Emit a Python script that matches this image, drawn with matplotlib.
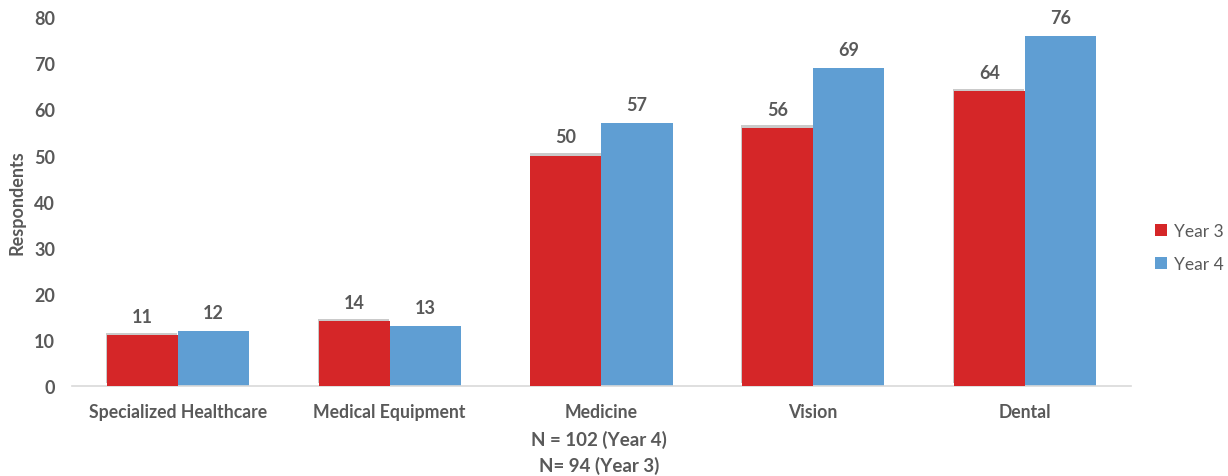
import matplotlib
matplotlib.use("Agg")
import matplotlib.pyplot as plt
import matplotlib.patheffects as pe
from matplotlib.patches import Patch
import numpy as np

categories = ["Specialized Healthcare", "Medical Equipment", "Medicine", "Vision", "Dental"]
year3 = [11, 14, 50, 56, 64]
year4 = [12, 13, 57, 69, 76]
series_names = ["Year 3", "Year 4"]
y_ticks = [0, 10, 20, 30, 40, 50, 60, 70, 80]
n_lines = ["N = 102 (Year 4)", "N= 94 (Year 3)"]

RED = "#D52628"
BLUE = "#5F9ED3"
TXT = "#595959"

plt.rcParams["font.family"] = ["Lato", "DejaVu Sans"]

fig = plt.figure(figsize=(12.28, 4.77), dpi=100)
ax = fig.add_axes([0.0586, 0.1887, 0.8624, 0.773])

x = np.arange(len(categories))
w = 0.336
shadow = [pe.SimplePatchShadow(offset=(-0.5, 1.8), shadow_rgbFace="#444444", alpha=0.28), pe.Normal()]
b3 = ax.bar(x - w / 2, year3, w, color=RED, zorder=3, path_effects=shadow)
b4 = ax.bar(x + w / 2, year4, w, color=BLUE, zorder=2)

for bars, vals in ((b3, year3), (b4, year4)):
    for r, v in zip(bars, vals):
        ax.text(r.get_x() + r.get_width() / 2, v + 2.2, str(v), ha="center", va="bottom",
                fontsize=13, fontweight="bold", color=TXT)

ax.set_xlim(-0.5, len(categories) - 0.5)
ax.set_ylim(0, 80)
ax.set_yticks(y_ticks)
ax.set_xticks(x)
ax.set_xticklabels(categories)
ax.tick_params(axis="both", length=0, labelsize=13, labelcolor=TXT)
ax.tick_params(axis="x", labelsize=12.7, pad=12)
ax.tick_params(axis="y", pad=12)
for lbl in ax.get_xticklabels() + ax.get_yticklabels():
    lbl.set_fontweight("bold")

for s in ("top", "right", "left"):
    ax.spines[s].set_visible(False)
ax.spines["bottom"].set_color("#D9D9D9")
ax.spines["bottom"].set_linewidth(1.2)

ax.set_ylabel("Respondents", fontsize=13, fontweight="bold", color=TXT, labelpad=6)

fig.text(0.488, 0.077, n_lines[0], ha="center", va="center", fontsize=13.5, fontweight="bold", color=TXT)
fig.text(0.488, 0.023, n_lines[1], ha="center", va="center", fontsize=13.5, fontweight="bold", color=TXT)

handles = [Patch(facecolor=RED, label=series_names[0]), Patch(facecolor=BLUE, label=series_names[1])]
leg = ax.legend(handles=handles, loc="center left", bbox_to_anchor=(1.0, 0.375), borderaxespad=1.0,
                frameon=False, fontsize=12.5, handlelength=0.7, handleheight=0.7,
                handletextpad=0.4, labelspacing=1.0)
for t in leg.get_texts():
    t.set_color(TXT)

fig.savefig("out.png", dpi=100)
